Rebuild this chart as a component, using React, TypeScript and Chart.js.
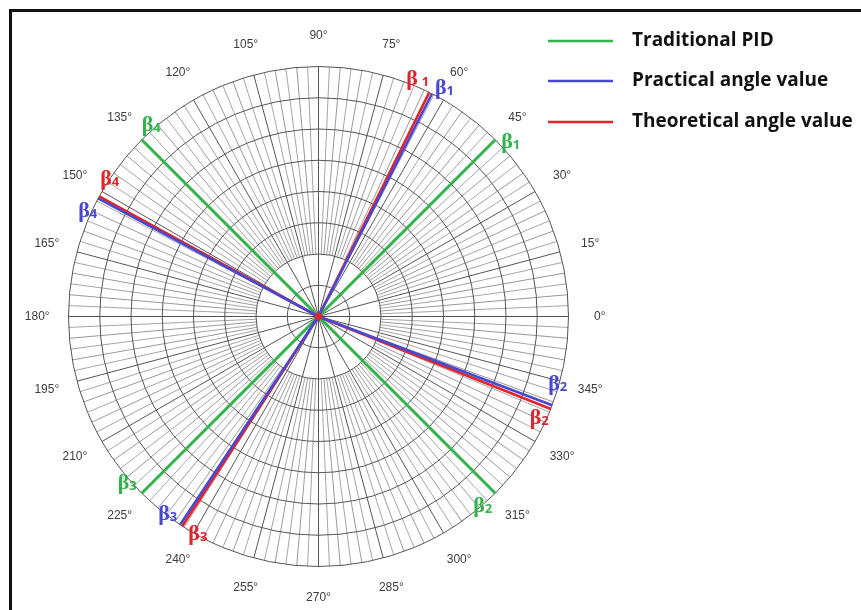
import React, { useEffect, useRef } from 'react';
import { Chart, registerables } from 'chart.js';

Chart.register(...registerables);

// ---------- data ----------
const seriesNames = ['Traditional PID', 'Practical angle value', 'Theoretical angle value'];
const betaIndices = ['1', '2', '3', '4'];
const traditionalPID = [45, 315, 225, 135];
const practicalAngle = [63.0, 339.2, 236.4, 151.8];
const theoreticalAngle = [63.7, 338.3, 237.0, 151.3];
const ringRadii = [1, 2, 3, 4, 5, 6, 7, 8];
const angleTicks = [0, 15, 30, 45, 60, 75, 90, 105, 120, 135, 150, 165, 180, 195, 210, 225, 240, 255, 270, 285, 300, 315, 330, 345];

// ---------- styles ----------
const R_MAX = 8;
const LABEL_R = 9;
const GREEN = '#33b24d';
const BLUE = '#4848d0';
const RED = '#e2242b';
const seriesColors = [GREEN, BLUE, RED];
const seriesWidths = [3, 2.6, 2.6];
// beta label offsets in px relative to the end of each line
const betaOffsets = [
  [[6, 8], [-22, 19], [-24, -4], [0, -9]],
  [[3, 0], [-4, -15], [-22, -5], [-20, 19]],
  [[-23, -7], [-21, 15], [6, 14], [1, -11]],
];
const betaGap = [[0, 0, 0, 0], [0, 0, 0, 0], [4, 0, 0, 0]];

function toXY(angleDeg: number, r: number) {
  const t = (angleDeg * Math.PI) / 180;
  return { x: r * Math.cos(t), y: r * Math.sin(t) };
}

function spokeData(angles: number[]) {
  const pts: { x: number; y: number }[] = [];
  angles.forEach((a) => {
    pts.push({ x: 0, y: 0 });
    pts.push(toXY(a, R_MAX));
  });
  return pts;
}

const allSeries = [traditionalPID, practicalAngle, theoreticalAngle];

const polarPaper = {
  id: 'polarPaper',
  beforeDatasetsDraw(chart: any) {
    const ctx = chart.ctx as CanvasRenderingContext2D;
    const xs = chart.scales.x;
    const ys = chart.scales.y;
    const cx = xs.getPixelForValue(0);
    const cy = ys.getPixelForValue(0);
    const u = xs.getPixelForValue(1) - cx;
    ctx.save();
    // spokes
    for (let i = 0; i < 144; i++) {
      const a = i * 2.5;
      let r0 = 2;
      let color = '#a6a6a6';
      if (i % 6 === 0) {
        r0 = 0;
        color = '#555555';
      } else if (i % 2 === 0) {
        r0 = 2;
        color = '#999999';
      }
      const t = (a * Math.PI) / 180;
      ctx.beginPath();
      ctx.strokeStyle = color;
      ctx.lineWidth = 1;
      ctx.moveTo(cx + r0 * u * Math.cos(t), cy - r0 * u * Math.sin(t));
      ctx.lineTo(cx + R_MAX * u * Math.cos(t), cy - R_MAX * u * Math.sin(t));
      ctx.stroke();
    }
    // rings
    ringRadii.forEach((r) => {
      ctx.beginPath();
      ctx.strokeStyle = '#555555';
      ctx.lineWidth = 1;
      ctx.arc(cx, cy, r * u, 0, Math.PI * 2);
      ctx.stroke();
    });
    ctx.restore();
  },
  afterDatasetsDraw(chart: any) {
    const ctx = chart.ctx as CanvasRenderingContext2D;
    const xs = chart.scales.x;
    const ys = chart.scales.y;
    const cx = xs.getPixelForValue(0);
    const cy = ys.getPixelForValue(0);
    ctx.save();
    // center dot
    ctx.beginPath();
    ctx.fillStyle = RED;
    ctx.arc(cx, cy, 3.5, 0, Math.PI * 2);
    ctx.fill();

    // angle tick labels
    ctx.font = '12px "Liberation Sans", Arial, sans-serif';
    ctx.fillStyle = '#3c3c3c';
    ctx.textAlign = 'center';
    ctx.textBaseline = 'middle';
    angleTicks.forEach((a) => {
      const p = toXY(a, LABEL_R);
      ctx.fillText(`${a}°`, xs.getPixelForValue(p.x), ys.getPixelForValue(p.y));
    });

    // beta labels
    allSeries.forEach((angles, s) => {
      angles.forEach((a, k) => {
        const p = toXY(a, R_MAX);
        const ex = xs.getPixelForValue(p.x);
        const ey = ys.getPixelForValue(p.y);
        const [dx, dy] = betaOffsets[s][k];
        const x = ex + dx;
        const y = ey + dy;
        ctx.fillStyle = seriesColors[s];
        ctx.textAlign = 'left';
        ctx.textBaseline = 'alphabetic';
        ctx.font = 'bold 22px "Liberation Serif", serif';
        ctx.fillText('β', x, y);
        const w = ctx.measureText('β').width;
        ctx.font = 'bold 13px "Open Sans", sans-serif';
        ctx.fillText(betaIndices[k], x + w + betaGap[s][k], y + 1);
      });
    });

    // legend
    const legendY = [41, 81, 122];
    seriesNames.forEach((name, i) => {
      ctx.beginPath();
      ctx.strokeStyle = seriesColors[i];
      ctx.lineWidth = 2.5;
      ctx.moveTo(548, legendY[i]);
      ctx.lineTo(613, legendY[i]);
      ctx.stroke();
      ctx.fillStyle = '#111111';
      ctx.font = 'bold 19px "Open Sans", sans-serif';
      ctx.textAlign = 'left';
      ctx.textBaseline = 'middle';
      ctx.fillText(name, 632, legendY[i]);
    });

    // frame
    ctx.fillStyle = '#111111';
    ctx.fillRect(9, 9, 3, 610);
    ctx.fillRect(9, 9, 861, 3);
    ctx.restore();
  },
};

export default function App() {
  const ref = useRef<HTMLCanvasElement>(null);
  useEffect(() => {
    if (!ref.current) return;
    const datasets = [
      { label: seriesNames[0], data: spokeData(traditionalPID), order: 3 },
      { label: seriesNames[1], data: spokeData(practicalAngle), order: 1 },
      { label: seriesNames[2], data: spokeData(theoreticalAngle), order: 2 },
    ].map((d, i) => ({
      ...d,
      showLine: true,
      borderColor: seriesColors[i],
      backgroundColor: seriesColors[i],
      borderWidth: seriesWidths[i],
      pointRadius: 0,
      fill: false,
      clip: false as any,
    }));
    const chart = new Chart(ref.current, {
      type: 'scatter',
      data: { datasets },
      options: {
        animation: false,
        responsive: false,
        devicePixelRatio: 1,
        layout: { padding: { left: 68.5, right: 292.5, top: 66.5, bottom: 43.5 } },
        plugins: { legend: { display: false }, tooltip: { enabled: false }, title: { display: false } },
        scales: {
          x: { type: 'linear', min: -R_MAX, max: R_MAX, display: false },
          y: { type: 'linear', min: -R_MAX, max: R_MAX, display: false },
        },
        events: [],
      },
      plugins: [polarPaper],
    });
    return () => chart.destroy();
  }, []);
  return (
    <canvas
      ref={ref}
      width={861}
      height={610}
      style={{ position: 'fixed', left: 0, top: 0, width: 861, height: 610, display: 'block' }}
    />
  );
}
